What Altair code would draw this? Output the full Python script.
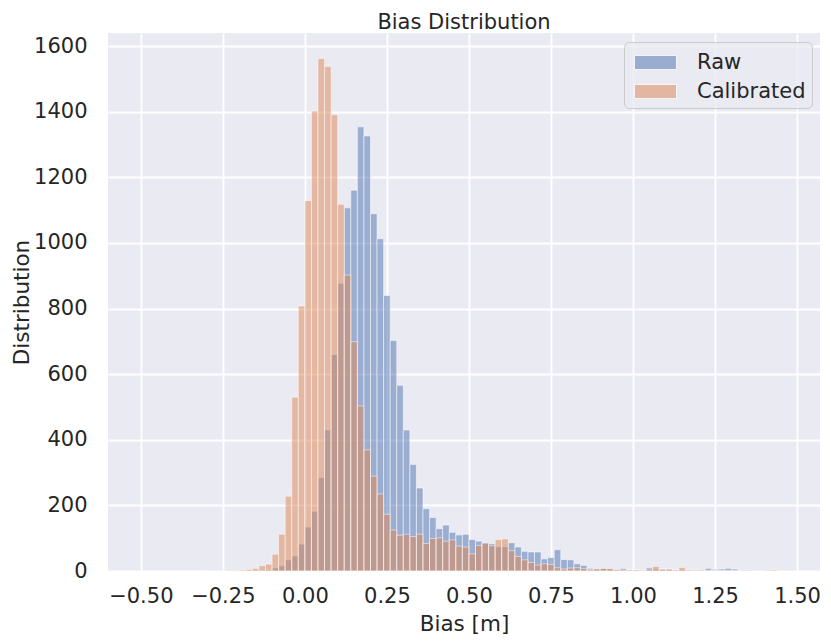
import altair as alt
import pandas as pd

# Histogram bins: 100 bins of width 0.02 starting at -0.5
BIN_START = -0.5
BIN_WIDTH = 0.02

series_names = ["Raw", "Calibrated"]
series_colors = ["#4C72B0", "#DD8452"]

raw_counts = [
    0, 0, 0, 0, 0, 0, 0, 0, 0, 0,
    0, 0, 0, 0, 1, 1, 1, 2, 2, 3,
    9, 16, 34, 46, 82, 134, 182, 285, 430, 660,
    877, 1107, 1161, 1354, 1326, 1089, 1013, 840, 703, 566,
    430, 325, 253, 190, 163, 129, 140, 118, 110, 112,
    96, 91, 86, 83, 74, 74, 86, 73, 60, 58,
    58, 37, 41, 65, 35, 34, 22, 17, 8, 6,
    7, 6, 4, 8, 3, 3, 2, 10, 6, 6,
    4, 3, 3, 2, 3, 4, 8, 5, 6, 8,
    6, 2, 3, 1, 1, 2, 1, 1, 1, 0,
]

cal_counts = [
    0, 0, 0, 0, 0, 0, 0, 0, 0, 0,
    1, 1, 1, 2, 2, 3, 5, 8, 16, 21,
    51, 112, 228, 530, 808, 1129, 1402, 1562, 1538, 1391,
    1118, 902, 699, 503, 369, 289, 235, 173, 125, 109,
    112, 105, 112, 84, 99, 101, 91, 95, 76, 73,
    52, 78, 85, 77, 96, 98, 62, 44, 34, 26,
    18, 22, 20, 10, 6, 9, 10, 8, 4, 7,
    8, 8, 4, 3, 3, 3, 2, 6, 14, 5,
    6, 3, 11, 3, 2, 2, 2, 1, 1, 1,
    1, 1, 1, 0, 1, 2, 3, 1, 0, 0,
]

x_ticks = [-0.5, -0.25, 0.0, 0.25, 0.5, 0.75, 1.0, 1.25, 1.5]
y_ticks = [0, 200, 400, 600, 800, 1000, 1200, 1400, 1600]

rows = []
for name, counts in zip(series_names, [raw_counts, cal_counts]):
    for k, c in enumerate(counts):
        if c <= 0:
            continue
        lo = round(BIN_START + k * BIN_WIDTH, 4)
        rows.append({"series": name, "lo": lo, "hi": round(lo + BIN_WIDTH, 4), "count": c})
df = pd.DataFrame(rows)

FONT = "DejaVu Sans"
TEXT = "#262626"

xscale = alt.Scale(domain=[-0.6, 1.57], nice=False, zero=False)
yscale = alt.Scale(domain=[0, 1640], nice=False, zero=True)

legend = alt.Legend(
    title=None,
    orient="none",
    legendX=516,
    legendY=9,
    symbolType="M-0.714,-0.5H2.286V0.5H-0.714Z",
    symbolSize=784,
    symbolOpacity=0.5,
    symbolStrokeColor="white",
    symbolStrokeWidth=1,
    labelFont=FONT,
    labelFontSize=21,
    labelColor=TEXT,
    labelOffset=38,
    padding=6,
    rowPadding=4,
    fillColor="rgba(234,234,242,0.8)",
    strokeColor="rgba(200,200,200,0.9)",
    cornerRadius=5,
)

base = alt.Chart(df).mark_rect(
    fillOpacity=0.5, stroke="white", strokeWidth=1, strokeOpacity=0.5
).encode(
    x=alt.X(
        "lo:Q",
        scale=xscale,
        axis=alt.Axis(values=x_ticks, format=".2f", title="Bias [m]",
                      labelPadding=14, titlePadding=7),
    ),
    x2="hi:Q",
    y=alt.Y(
        "count:Q",
        scale=yscale,
        axis=alt.Axis(values=y_ticks, format="d", title="Distribution",
                      labelPadding=21, titlePadding=0),
    ),
    y2=alt.datum(0),
    color=alt.Color(
        "series:N",
        scale=alt.Scale(domain=series_names, range=series_colors),
        legend=legend,
    ),
)

raw = base.transform_filter(alt.datum.series == "Raw")
cal = base.transform_filter(alt.datum.series == "Calibrated")

chart = alt.layer(raw, cal).properties(
    width=712,
    height=538,
    title=alt.TitleParams("Bias Distribution", font=FONT, fontSize=21, fontWeight="normal",
                          color=TEXT, anchor="middle", offset=0),
    autosize=alt.AutoSizeParams(type="none"),
    padding={"left": 100, "top": 25, "right": 3, "bottom": 70},
).configure_view(
    fill="#EAEAF2", strokeWidth=0
).configure_axis(
    domain=False,
    ticks=False,
    tickSize=0,
    grid=True,
    gridColor="white",
    gridWidth=1.8,
    labelFont=FONT,
    labelFontSize=21,
    labelColor=TEXT,
    titleFont=FONT,
    titleFontSize=21.5,
    titleFontWeight="normal",
    titleColor=TEXT,
)

chart.save("out.html", embed_options={"renderer": "svg", "actions": False})
